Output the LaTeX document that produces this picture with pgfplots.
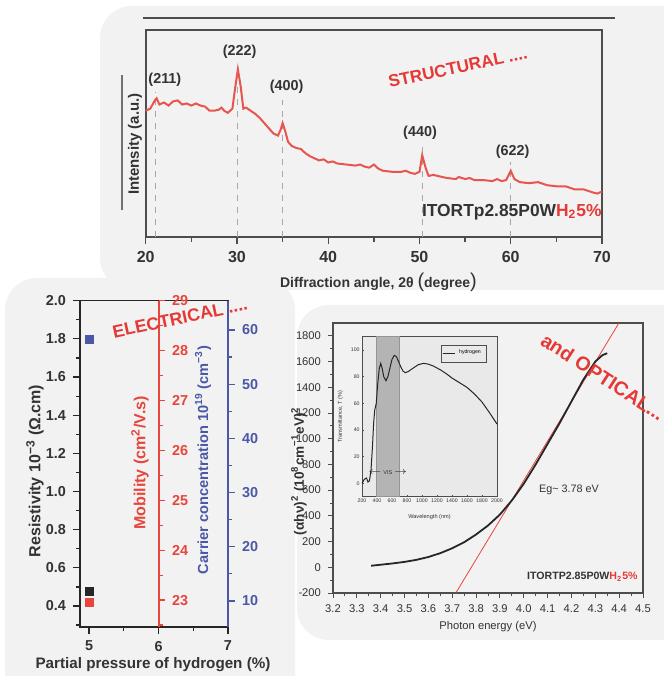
\documentclass[border=0pt]{standalone}
\usepackage{fontspec}
\setmainfont{Liberation Sans}
\usepackage{pgfplots}
\pgfplotsset{compat=1.18}
\definecolor{panel}{HTML}{F2F2F2}
\definecolor{axgray}{HTML}{4D4D4D}
\definecolor{txtgray}{HTML}{333333}
\definecolor{xrdred}{HTML}{E8554E}
\definecolor{labred}{HTML}{E53935}
\definecolor{mobred}{HTML}{E8453C}
\definecolor{carblue}{HTML}{4B58A6}
\definecolor{insetbg}{HTML}{E9E9E9}
\definecolor{visgray}{HTML}{B4B4B4}
\newcommand{\fs}[1]{\fontsize{#1}{#1}\selectfont}
\begin{document}
\begin{tikzpicture}
\useasboundingbox (0,0) rectangle (332pt,338pt);
\begin{scope}
\clip (0,0) rectangle (332pt,338pt);
\fill[white] (0,0) rectangle (332pt,338pt);
\fill[panel, rounded corners=16pt] (50pt,193pt) rectangle (350pt,335pt);
\fill[panel, rounded corners=16pt] (2.5pt,-20pt) rectangle (147.5pt,199pt);
\fill[panel, rounded corners=16pt] (148.5pt,18pt) rectangle (350pt,185.5pt);
\node[anchor=north west, inner sep=0pt, font=\fs{11}\bfseries, text=labred] at (271.5pt,-1.5pt) {CHARACTERIZATION};
\end{scope}
% decorative lines of the XRD panel
\draw[axgray, line width=0.8pt] (71.5pt,329pt) -- (307.5pt,329pt);
\draw[axgray!80, line width=0.6pt] (61pt,300.5pt) -- (61pt,233pt);

%================ XRD =================
\begin{axis}[at={(72.85pt,219.5pt)}, anchor=south west, scale only axis,
  width=228.15pt, height=103.5pt, xmin=20, xmax=70, ymin=0, ymax=100, clip=false,
  axis line style={draw=axgray, line width=0.9pt},
  xtick={20,30,...,70}, minor xtick={25,35,...,65}, ytick=\empty,
  xtick pos=bottom, tick align=outside, major tick length=3.5pt, minor tick length=2.5pt,
  tick style={axgray, line width=0.7pt},
  /pgf/number format/assume math mode=true,
  xticklabel style={font=\fs{8}\bfseries, text=txtgray},
  xlabel={Diffraction angle, 2θ {\fs{10}\mdseries(}degree{\fs{10}\mdseries)}},
  xlabel style={font=\fs{7}\bfseries, text=txtgray, at={(axis description cs:0.51,-0.217)}, anchor=center}]
\addplot[gray!70, dashed, line width=0.4pt] coordinates {(21.1,0) (21.1,70)};
\addplot[gray!70, dashed, line width=0.4pt] coordinates {(30.1,0) (30.1,75)};
\addplot[gray!70, dashed, line width=0.4pt] coordinates {(35,0) (35,66)};
\addplot[gray!70, dashed, line width=0.4pt] coordinates {(50.3,0) (50.3,43.5)};
\addplot[gray!70, dashed, line width=0.4pt] coordinates {(60,0) (60,36)};
\addplot[xrdred, line width=1pt] coordinates {
(20,61) (20.5,62) (21,66) (21.2,67) (21.5,64) (22,65) (22.5,63.5) (23,65.5) (23.5,66)
(24,64) (24.5,64.5) (25,63.5) (25.5,64.5) (26,63.5) (26.5,63) (27,61) (27.5,61) (28,61.5)
(28.3,62.5) (28.6,61) (29,60) (29.5,62) (29.8,72) (30.1,81) (30.4,73) (30.7,62) (31,62.5)
(31.5,61) (32,59.5) (32.5,57.5) (33,55) (33.5,52.5) (34,50) (34.5,49) (34.8,52) (35,55)
(35.3,51) (35.6,46) (36,44) (36.5,43) (37,42.5) (37.5,40.5) (38,39) (38.5,38) (39,37)
(39.5,37.5) (40,36) (40.5,36.5) (41,35.5) (42,35) (43,34.5) (43.5,35) (44,34) (44.5,33.5)
(45,35) (45.5,33) (46,32) (47,31.5) (48,31.5) (48.5,32) (49,31) (49.5,30.5) (50,31.5)
(50.3,39.5) (50.7,33) (51,29.5) (51.5,30) (52,29.5) (53,28.5) (54,28) (54.3,29) (55,28)
(55.5,28.5) (56,27.5) (57,27.5) (58,27) (58.5,28) (59,27) (59.5,27.5) (60,32) (60.4,28)
(61,26.5) (62,26) (63,26.5) (64,25) (65,24.5) (66,24.5) (67,23) (68,23) (69,21.5) (69.5,21) (70,22)};
\node[font=\fs{7.2}\bfseries, text=txtgray] at (axis cs:22.1,75.8) {(211)};
\node[font=\fs{7.2}\bfseries, text=txtgray] at (axis cs:30.3,89.4) {(222)};
\node[font=\fs{7.2}\bfseries, text=txtgray] at (axis cs:35.45,72.5) {(400)};
\node[font=\fs{7.2}\bfseries, text=txtgray] at (axis cs:50.06,50.2) {(440)};
\node[font=\fs{7.2}\bfseries, text=txtgray] at (axis cs:60.2,41) {(622)};
\node[font=\fs{8.6}\bfseries, text=labred, rotate=12] at (axis cs:54.2,82) {STRUCTURAL ....};
\node[anchor=east, inner sep=0pt, font=\fs{8.7}\bfseries] at (axis cs:70,12) {{\color{txtgray}ITORTp2.85P0W}{\color{labred}H\textsubscript{2}5\%}};
\end{axis}
\node[rotate=90, font=\fs{7.5}\bfseries, text=txtgray] at (67.5pt,266pt) {Intensity (a.u.)};

%================ ELECTRICAL =================
\begin{axis}[at={(40pt,24.5pt)}, anchor=south west, scale only axis,
  width=74pt, height=163.15pt, xmin=4.87, xmax=7, ymin=0.29, ymax=2.0, clip=false,
  axis line style={black!85, line width=0.7pt},
  xtick={5,6,7}, minor xtick={5.5,6.5},
  ytick={0.4,0.6,0.8,1.0,1.2,1.4,1.6,1.8,2.0}, minor ytick={0.3,0.5,0.7,0.9,1.1,1.3,1.5,1.7,1.9},
  xtick pos=bottom, ytick pos=left, tick align=outside,
  major tick length=3.5pt, minor tick length=2pt, tick style={black!85, line width=0.6pt},
  /pgf/number format/assume math mode=true,
  xticklabel style={font=\fs{7.2}\bfseries, text=txtgray},
  yticklabel style={font=\fs{7.2}\bfseries, text=txtgray, /pgf/number format/.cd, fixed, fixed zerofill, precision=1}]
\addplot[only marks, mark=square*, mark size=2pt, color=black!85] coordinates {(5,0.475)};
\end{axis}
\begin{axis}[at={(40pt,24.5pt)}, anchor=south west, scale only axis,
  width=39.5pt, height=163.15pt, xmin=4.87, xmax=6, ymin=22.46, ymax=29, clip=false,
  axis y line*=right, axis x line=none,
  y axis line style={mobred, line width=0.7pt},
  ytick={23,24,25,26,27,28,29}, minor ytick={22.5,23.5,24.5,25.5,26.5,27.5,28.5},
  tick align=outside, major tick length=3pt, minor tick length=2pt, tick style={mobred, line width=0.6pt},
  /pgf/number format/assume math mode=true,
  yticklabel style={font=\fs{7.2}\bfseries, text=mobred}]
\addplot[only marks, mark=square*, mark size=2pt, color=mobred] coordinates {(5,22.95)};
\end{axis}
\begin{axis}[at={(40pt,24.5pt)}, anchor=south west, scale only axis,
  width=74pt, height=163.15pt, xmin=4.87, xmax=7, ymin=5.2, ymax=65.4, clip=false,
  axis y line*=right, axis x line=none,
  y axis line style={carblue, line width=0.7pt},
  ytick={10,20,30,40,50,60}, minor ytick={15,25,35,45,55},
  tick align=outside, major tick length=3.5pt, minor tick length=2pt, tick style={carblue, line width=0.6pt},
  /pgf/number format/assume math mode=true,
  yticklabel style={font=\fs{7.2}\bfseries, text=carblue}]
\addplot[only marks, mark=square*, mark size=2pt, color=carblue] coordinates {(5,58.3)};
\end{axis}
\node[rotate=90, font=\fs{8}\bfseries, text=txtgray] at (17.5pt,102.5pt) {Resistivity 10\textsuperscript{−3} (Ω.cm)};
\node[rotate=90, font=\fs{8}\bfseries, text=mobred] at (70pt,106.5pt) {Mobility (cm\textsuperscript{2}/V.s)};
\node[rotate=90, font=\fs{7.3}\bfseries, text=carblue] at (101.5pt,108pt) {Carrier concentration 10\textsuperscript{19} (cm\textsuperscript{−3})};
\node[font=\fs{7.6}\bfseries, text=txtgray] at (76.5pt,5.5pt) {Partial pressure of hydrogen (\%)};
\node[rotate=12, font=\fs{8.9}\bfseries, text=labred] at (90pt,179pt) {ELECTRICAL ....};

%================ OPTICAL =================
\begin{axis}[at={(166.5pt,41.5pt)}, anchor=south west, scale only axis,
  width=155pt, height=135pt, xmin=3.2, xmax=4.5, ymin=-200, ymax=1900, clip=false,
  axis line style={axgray, line width=0.7pt},
  xtick={3.2,3.3,3.4,3.5,3.6,3.7,3.8,3.9,4.0,4.1,4.2,4.3,4.4,4.5}, minor x tick num=1,
  ytick={-200,0,200,400,600,800,1000,1200,1400,1600,1800}, minor y tick num=1,
  xtick pos=bottom, ytick pos=left, tick align=outside,
  major tick length=2.5pt, minor tick length=1.5pt, tick style={axgray, line width=0.5pt},
  /pgf/number format/assume math mode=true, /pgf/number format/1000 sep={},
  xticklabel style={font=\fs{5.6}, text=txtgray, /pgf/number format/.cd, fixed, fixed zerofill, precision=1},
  yticklabel style={font=\fs{5.6}, text=txtgray},
  xlabel={Photon energy (eV)},
  xlabel style={font=\fs{5.6}, text=txtgray, at={(axis description cs:0.5,-0.126)}, anchor=center}]
\addplot[mobred, line width=0.4pt] coordinates {(3.715,-200) (4.399,1900)};
\addplot[black!85, line width=0.9pt] coordinates {
(3.36,12) (3.4,20) (3.45,30) (3.5,42) (3.55,58) (3.6,80) (3.65,110) (3.7,148) (3.75,195)
(3.8,255) (3.85,325) (3.9,410) (3.95,520) (4.0,650) (4.05,800) (4.1,960) (4.15,1120)
(4.2,1290) (4.25,1460) (4.3,1600) (4.33,1650) (4.35,1665)};
\node[font=\fs{5.4}, text=txtgray] at (axis cs:4.19,605) {Eg\textasciitilde{} 3.78 eV};
\node[anchor=east, inner sep=0pt, font=\fs{5.3}\bfseries] at (axis cs:4.479,-75) {{\color{txtgray}ITORTP2.85P0W}{\color{labred}H\textsubscript{2}5\%}};
\node[rotate=-33, font=\fs{9.8}\bfseries, text=labred] at (axis cs:4.332,1480) {and OPTICAL...};
\end{axis}
\node[rotate=90, font=\fs{6.8}\bfseries, text=txtgray] at (149.5pt,102.5pt) {(αhν)\textsuperscript{2} (10\textsuperscript{8}cm\textsuperscript{−1}eV)\textsuperscript{2}};

% inset
\begin{axis}[at={(181pt,89.65pt)}, anchor=south west, scale only axis,
  width=67.5pt, height=80pt, xmin=200, xmax=2000, ymin=-10, ymax=110, clip=false,
  axis background/.style={fill=insetbg},
  axis line style={axgray, line width=0.35pt},
  xtick={200,400,...,2000}, ytick={0,20,...,100},
  xtick pos=bottom, ytick pos=left, tick align=inside,
  major tick length=1pt, tick style={axgray, line width=0.25pt},
  /pgf/number format/assume math mode=true, /pgf/number format/1000 sep={},
  xticklabel style={font=\fs{2.6}, text=txtgray, inner sep=1pt},
  yticklabel style={font=\fs{2.6}, text=txtgray, inner sep=1pt},
  xlabel={Wavelength (nm)}, ylabel={Transmittance, T (\%)},
  xlabel style={font=\fs{2.8}, text=txtgray, at={(axis description cs:0.5,-0.125)}, anchor=center},
  ylabel style={font=\fs{2.8}, text=txtgray, at={(axis description cs:-0.16,0.5)}, anchor=center},
  legend style={font=\fs{2.6}, at={(0.92,0.95)}, anchor=north east, draw=axgray, line width=0.2pt,
    fill=insetbg, inner sep=0.6pt, row sep=0pt},
  legend image code/.code={\draw[#1, line width=0.4pt] (0pt,0pt) -- (6pt,0pt);}]
\addplot[fill=visgray, draw=axgray!60, line width=0.2pt, forget plot] coordinates {(390,-10) (390,110) (690,110) (690,-10)} -- cycle;
\addplot[black!85, line width=0.5pt] coordinates {
(200,0) (230,3) (260,4) (280,1) (300,2) (320,10) (340,28) (355,45) (370,55) (390,60)
(410,75) (430,86) (450,90) (470,86) (490,80) (520,77) (545,80) (570,86) (600,93)
(630,96) (660,95) (690,91) (720,87) (750,84) (780,83) (820,84) (870,86) (950,89)
(1020,90) (1080,89.5) (1150,88) (1250,85) (1330,82) (1400,79) (1500,75.5) (1600,72)
(1700,67) (1800,61) (1900,53) (2000,44.5)};
\addlegendentry{hydrogen}
\node[font=\fs{2.8}, text=txtgray] at (axis cs:545,8) {$\leftarrow$ VIS $\rightarrow$};
\end{axis}
\end{tikzpicture}
\end{document}
